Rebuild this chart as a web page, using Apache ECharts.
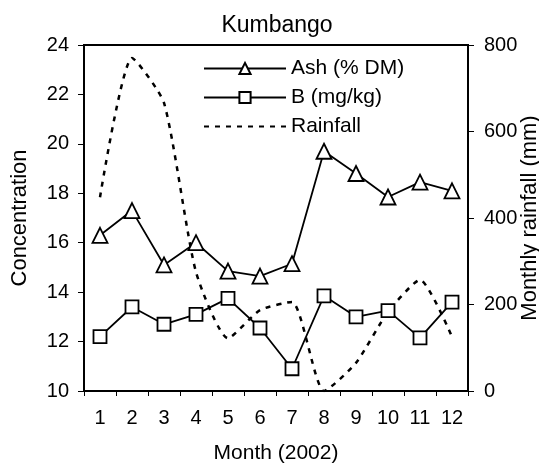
<!DOCTYPE html>
<html><head><meta charset="utf-8">
<script src="https://cdn.jsdelivr.net/npm/echarts@6/dist/echarts.min.js"></script>
<style>html,body{margin:0;padding:0;background:#fff}#c{width:539px;height:468px}</style>
</head><body><div id="c"></div>
<script>
const months = ['1','2','3','4','5','6','7','8','9','10','11','12'];
const ash = [16.3, 17.3, 15.1, 16.0, 14.85, 14.65, 15.15, 19.7, 18.8, 17.85, 18.45, 18.1];
const boron = [12.2, 13.4, 12.7, 13.1, 13.75, 12.55, 10.9, 13.85, 13.0, 13.25, 12.15, 13.6];
const rainfall = [448, 770, 666, 275, 122, 187, 206, 0, 65, 183, 257, 125];
const font = 'Liberation Sans, Arial, sans-serif';
const chart = echarts.init(document.getElementById('c'));
chart.setOption({
  animation: false,
  backgroundColor: '#fff',
  title: {text: 'Kumbango', left: 272, top: 9, textAlign: 'center',
    textStyle: {fontFamily: font, fontSize: 23, fontWeight: 'normal', color: '#000'}},
  grid: {left: 84, right: 71, top: 45, bottom: 77, show: true, borderColor: '#000', borderWidth: 2,
    backgroundColor: '#fff', containLabel: false, outerBoundsMode: 'none'},
  legend: {
    left: 203, top: 58, orient: 'vertical', itemWidth: 82, itemHeight: 14, itemGap: 8, padding: 0,
    textStyle: {fontFamily: font, fontSize: 21, color: '#000'},
    data: ['Ash (% DM)', 'B (mg/kg)', {name: 'Rainfall', itemStyle: {opacity: 0}}]
  },
  xAxis: {
    type: 'category', data: months, boundaryGap: true,
    name: 'Month (2002)', nameLocation: 'middle', nameGap: 52, nameMoveOverlap: false,
    nameTextStyle: {fontFamily: font, fontSize: 21, color: '#000'},
    axisLine: {lineStyle: {color: '#000', width: 2}},
    axisTick: {show: true, length: 5, lineStyle: {color: '#000'}},
    axisLabel: {fontFamily: font, fontSize: 20, color: '#000', margin: 17},
    splitLine: {show: false}
  },
  yAxis: [{
    type: 'value', min: 10, max: 24, interval: 2,
    name: 'Concentration', nameLocation: 'middle', nameGap: 53, nameRotate: 90, nameMoveOverlap: false,
    nameTextStyle: {fontFamily: font, fontSize: 22, color: '#000'},
    axisLine: {show: true, lineStyle: {color: '#000', width: 2}},
    axisTick: {show: true, length: 6, lineStyle: {color: '#000'}},
    axisLabel: {fontFamily: font, fontSize: 20, color: '#000', margin: 15},
    splitLine: {show: false}
  }, {
    type: 'value', min: 0, max: 800, interval: 200, position: 'right',
    name: 'Monthly rainfall (mm)', nameLocation: 'middle', nameGap: 51, nameRotate: 90, nameMoveOverlap: false,
    nameTextStyle: {fontFamily: font, fontSize: 22, color: '#000'},
    axisLine: {show: true, lineStyle: {color: '#000', width: 2}},
    axisTick: {show: true, length: 6, lineStyle: {color: '#000'}},
    axisLabel: {fontFamily: font, fontSize: 20, color: '#000', margin: 16},
    splitLine: {show: false}
  }],
  series: [{
    name: 'Ash (% DM)', type: 'line', data: ash, yAxisIndex: 0,
    symbol: 'triangle', symbolSize: 15, z: 3,
    lineStyle: {color: '#000', width: 1.8},
    itemStyle: {color: '#fff', borderColor: '#000', borderWidth: 1.8}
  }, {
    name: 'B (mg/kg)', type: 'line', data: boron, yAxisIndex: 0,
    symbol: 'rect', symbolSize: 13, z: 3,
    lineStyle: {color: '#000', width: 1.8},
    itemStyle: {color: '#fff', borderColor: '#000', borderWidth: 1.8}
  }, {
    name: 'Rainfall', type: 'line', data: rainfall, yAxisIndex: 1,
    smooth: 0.2, symbol: 'none', z: 2,
    lineStyle: {color: '#000', width: 2.5, type: [5, 6]},
    itemStyle: {color: '#000'}
  }]
});
</script></body></html>
